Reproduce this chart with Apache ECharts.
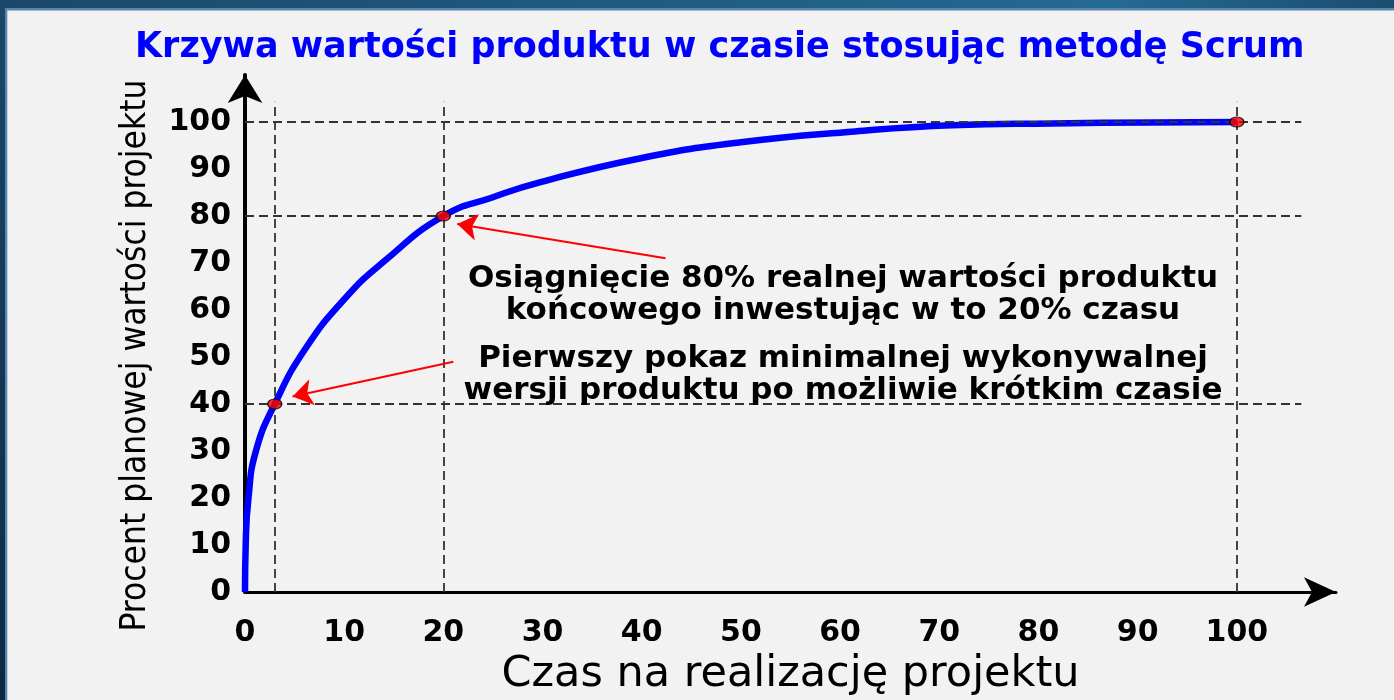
<!DOCTYPE html>
<html><head><meta charset="utf-8">
<script src="https://cdn.jsdelivr.net/npm/echarts@6/dist/echarts.min.js"></script>
<style>html,body{margin:0;padding:0;background:#f2f2f2;overflow:hidden}#c{width:1394px;height:700px}</style>
</head><body><div id="c"></div>
<script>
const titleText = 'Krzywa wartości produktu w czasie stosując metodę Scrum';
const xAxisName = 'Czas na realizację projektu';
const yAxisName = 'Procent planowej wartości projektu';
const tickLabels = [0, 10, 20, 30, 40, 50, 60, 70, 80, 90, 100];
const curveX = [0, 0.07, 0.35, 1.1, 3, 6.1, 10.1, 14, 20, 25, 29.8, 39.9, 50, 61.5, 71.3, 81.4, 91.5, 100];
const curveY = [0, 10, 20, 30, 40, 51.8, 62.5, 70.3, 80, 84, 87.2, 92.3, 95.7, 98, 99.3, 99.7, 99.9, 100];
const pointX = [3, 20, 100];
const pointY = [40, 80, 100];
const note1 = ['Osiągnięcie 80% realnej wartości produktu', 'końcowego inwestując w to 20% czasu'];
const note2 = ['Pierwszy pokaz minimalnej wykonywalnej', 'wersji produktu po możliwie krótkim czasie'];

const chart = echarts.init(document.getElementById('c'), null, {renderer: 'canvas'});
const BOLD = "'DejaVu Sans', 'Liberation Sans', Arial, sans-serif";
const guideStyle = {color: '#333', width: 1.8, type: [9, 5]};

const guides = [];
pointY.forEach(v => guides.push([{coord: [0, v]}, {coord: [106.5, v]}]));
pointX.forEach(v => guides.push([{coord: [v, 0]}, {coord: [v, 104.3]}]));

const option = {
  backgroundColor: '#f2f2f2',
  animation: false,
  title: {
    text: titleText, left: 130, top: 25,
    textStyle: {color: '#0000ff', fontWeight: 'bold', fontSize: 35, fontFamily: BOLD}
  },
  grid: {left: 245, right: 58, top: 75, bottom: 108, outerBoundsMode: 'none', containLabel: false},
  xAxis: {
    type: 'value', min: 0, max: 110, interval: 10,
    name: xAxisName, nameLocation: 'middle', nameGap: 57,
    nameTextStyle: {fontSize: 43, color: '#000', fontFamily: "'DejaVu Sans', sans-serif"},
    axisLine: {show: true, symbol: ['none', 'arrow'], symbolSize: [22, 32],
      lineStyle: {color: '#000', width: 3}},
    axisTick: {show: false}, splitLine: {show: false},
    axisLabel: {margin: 26, fontSize: 30, fontWeight: 'bold', color: '#000', fontFamily: BOLD,
      formatter: v => tickLabels.indexOf(v) >= 0 ? String(v) : ''}
  },
  yAxis: {
    type: 'value', min: 0, max: 110, interval: 10,
    name: yAxisName, nameLocation: 'middle', nameGap: 92, nameRotate: 90,
    nameTextStyle: {fontSize: 35, color: '#000', fontFamily: "'DejaVu Sans Condensed', 'Liberation Sans', sans-serif",
      padding: [0, 44, 0, 0]},
    axisLine: {show: true, symbol: ['none', 'arrow'], symbolSize: [26, 28],
      lineStyle: {color: '#000', width: 4}},
    axisTick: {show: false}, splitLine: {show: false},
    axisLabel: {margin: 14, fontSize: 30, fontWeight: 'bold', color: '#000', fontFamily: BOLD,
      formatter: v => tickLabels.indexOf(v) >= 0 ? String(v) : ''}
  },
  series: [
    {
      type: 'line', data: [], z: 1, silent: true,
      markLine: {silent: true, symbol: ['none', 'none'], label: {show: false},
        lineStyle: guideStyle, data: guides, animation: false}
    },
    {
      type: 'line', z: 3, silent: true, showSymbol: false, smooth: 0.5,
      data: curveX.map((x, i) => [x, curveY[i]]),
      lineStyle: {color: '#0000ff', width: 6.5}
    },
    {
      type: 'scatter', z: 5, silent: true,
      data: pointX.map((x, i) => [x, pointY[i]]),
      symbol: 'circle', symbolSize: [14, 10],
      itemStyle: {color: '#ff0000', borderColor: '#000', borderWidth: 1.3},
      markLine: {silent: true, symbol: ['none', 'arrow'], symbolSize: 20, label: {show: false},
        lineStyle: {color: '#ff0000', width: 2, type: 'solid'},
        data: [
          [{coord: [42.4, 71.0]}, {coord: [21.4, 78.3]}],
          [{coord: [21.0, 49.0]}, {coord: [4.8, 41.6]}]
        ]}
    }
  ],
  graphic: [
    {type: 'rect', z: 100, shape: {x: 0, y: 0, width: 1394, height: 8},
      style: {fill: new echarts.graphic.LinearGradient(0, 0, 1, 0, [
        {offset: 0, color: '#1a486a'}, {offset: 0.8, color: '#236a92'}, {offset: 1, color: '#1b4d70'}])}},
    {type: 'rect', z: 100, shape: {x: 0, y: 8, width: 1394, height: 2.5}, style: {fill: '#5a86ae'}},
    {type: 'rect', z: 101, shape: {x: 0, y: 0, width: 5, height: 700},
      style: {fill: new echarts.graphic.LinearGradient(0, 0, 0, 1, [
        {offset: 0, color: '#1a486a'}, {offset: 1, color: '#0c2a42'}])}},
    {type: 'rect', z: 101, shape: {x: 5, y: 8, width: 2.3, height: 692}, style: {fill: '#5a86ae'}},
    {type: 'text', z: 50, x: 843, y: 295,
      style: {text: note1.join('\n'), font: "bold 31px " + BOLD, fill: '#000',
        align: 'center', verticalAlign: 'middle', textAlign: 'center', textVerticalAlign: 'middle', lineHeight: 32}},
    {type: 'text', z: 50, x: 843, y: 375,
      style: {text: note2.join('\n'), font: "bold 31px " + BOLD, fill: '#000',
        align: 'center', verticalAlign: 'middle', textAlign: 'center', textVerticalAlign: 'middle', lineHeight: 32}}
  ]
};
chart.setOption(option);
</script>
</body></html>
